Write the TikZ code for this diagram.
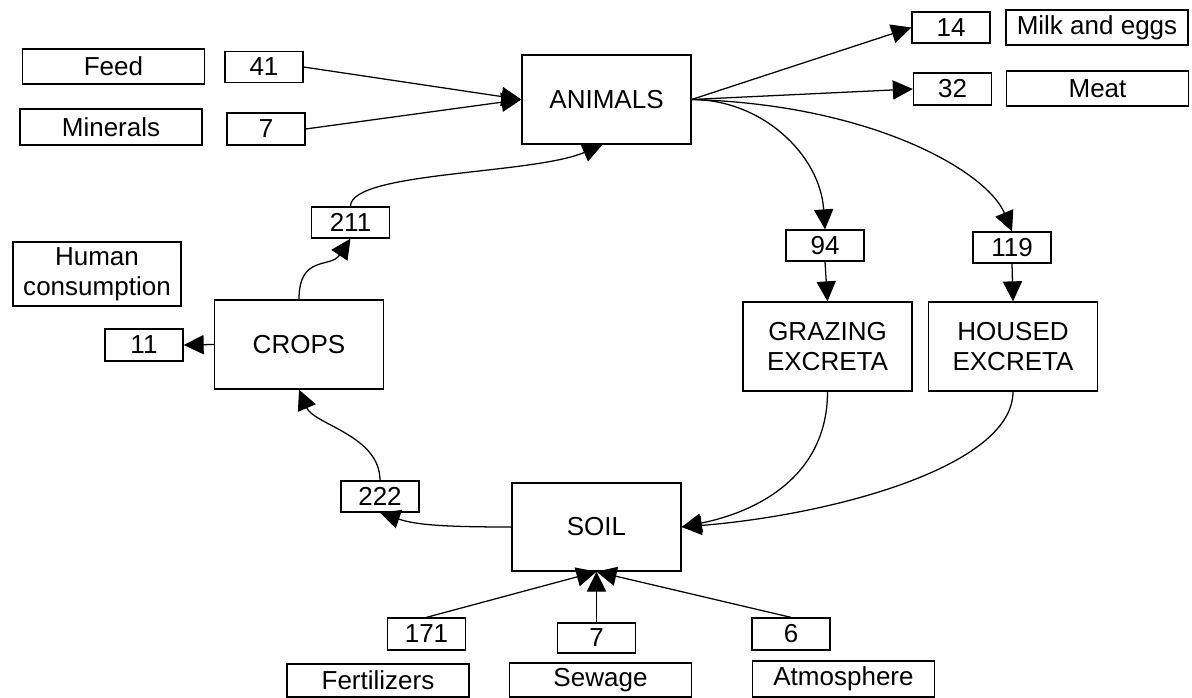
\documentclass[tikz,border=0pt]{standalone}
\usepackage{fontspec}
\setmainfont{Liberation Sans}
\usepackage{tikz}
\usetikzlibrary{positioning,arrows.meta,calc}

\begin{document}
\begin{tikzpicture}[x=0.025cm,y=-0.025cm,
                    every node/.style={font=\fontsize{18.5}{21}\selectfont},
                    pool/.style={draw,line width=0.9pt,inner sep=0pt,
                                 minimum width=4.225cm,minimum height=2.225cm,align=center},
                    qty/.style={draw,line width=0.9pt,inner sep=0pt,
                                minimum width=1.95cm,minimum height=0.775cm},
                    lbl/.style={draw,line width=0.9pt,inner sep=0pt,
                                minimum width=4.55cm,minimum height=0.875cm,align=center},
                    flow/.style={line width=0.9pt,-{Triangle[length=0.5cm,width=0.48cm]}}]
  \useasboundingbox (0,0) rectangle (1192,698);

  \node[pool] (animals) at (606.5,99.5) {ANIMALS};
  \node[pool] (crops)   at (299,344.5)  {CROPS};
  \node[pool] (grazing) at (827.5,346.5) {GRAZING\\EXCRETA};
  \node[pool] (housed)  at (1013,346.5) {HOUSED\\EXCRETA};
  \node[pool,minimum height=2.2cm] (soil) at (596.5,527) {SOIL};

  \node[lbl] (feed)     at (113.5,66.5) {Feed};
  \node[lbl,minimum height=0.9cm] (minerals) at (111,127) {Minerals};
  \node[lbl] (milk)     at (1097,27.5)  {Milk and eggs};
  \node[lbl] (meat)     at (1097.5,88.5) {Meat};
  \node[lbl,minimum width=4.2cm,minimum height=1.6cm] (human) at (97,274) {Human\\consumption};
  \node[lbl,minimum height=0.825cm] (fert) at (378,680.5) {Fertilizers};
  \node[lbl,minimum height=0.85cm]  (sew)  at (600.5,680) {Sewage};
  \node[lbl,minimum height=0.9cm]   (atm)  at (843.5,679) {Atmosphere};

  \node[qty] (qfeed) at (264,67)    {41};
  \node[qty,minimum height=0.8cm] (qmin) at (266,129) {7};
  \node[qty] (qmilk) at (951,27.5)  {14};
  \node[qty,minimum height=0.8cm] (qmeat) at (952.5,89) {32};
  \node[qty] (qcrop) at (350.5,222.5) {211};
  \node[qty,minimum height=0.8cm] (qhum) at (144,345) {11};
  \node[qty] (qgraz) at (825,245.5) {94};
  \node[qty] (qhous) at (1012,247.5) {119};
  \node[qty] (qsoil) at (380,496.5) {222};
  \node[qty,minimum height=0.8cm] (qfert) at (426.5,634) {171};
  \node[qty,minimum height=0.75cm] (qsew) at (596.5,638) {7};
  \node[qty,minimum height=0.8cm] (qatm) at (791,634) {6};

  \draw[flow] (qfeed.east) -- (animals.west);
  \draw[flow] (qmin.east) -- (animals.west);
  \draw[flow] (animals.east) -- (qmilk.west);
  \draw[flow] (animals.east) -- (qmeat.west);
  \draw[flow] (animals.east) .. controls +(70,0) and +(-5,-75) .. (qgraz.north);
  \draw[flow] (animals.east) .. controls +(180,5) and +(-25,-60) .. (qhous.north);
  \draw[flow] (qgraz.south) -- (grazing.north);
  \draw[flow] (qhous.south) -- (housed.north);
  \draw[flow] (grazing.south) .. controls +(0,85) and +(75,-15) .. (soil.east);
  \draw[flow] (housed.south) .. controls +(0,75) and +(150,-12) .. (soil.east);
  \draw[flow] (soil.west) .. controls +(-70,0) and +(35,12) .. (qsoil.south);
  \draw[flow] (qsoil.north) .. controls +(0,-45) and +(15,35) .. (crops.south);
  \draw[flow] (crops.west) -- (qhum.east);
  \draw[flow] (crops.north) .. controls +(0,-45) and +(-20,30) .. (qcrop.south);
  \draw[flow] (qcrop.north) .. controls +(0,-35) and +(-70,30) .. ([xshift=-0.1cm]animals.south);
  \draw[flow] (qfert.north) -- (soil.south);
  \draw[flow] (qsew.north) -- (soil.south);
  \draw[flow] (qatm.north) -- (soil.south);
\end{tikzpicture}
\end{document}
